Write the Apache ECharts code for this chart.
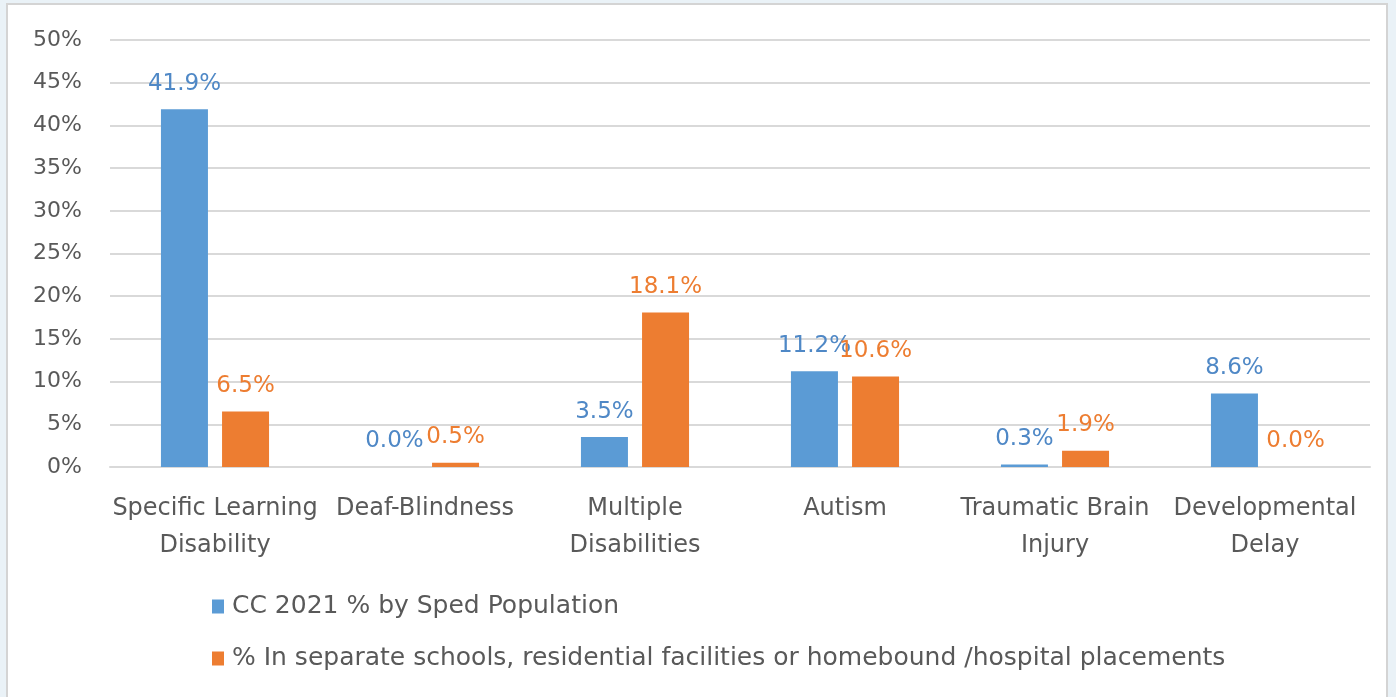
<!DOCTYPE html>
<html><head><meta charset="utf-8">
<script src="https://cdn.jsdelivr.net/npm/echarts@6/dist/echarts.min.js"></script>
<style>html,body{margin:0;padding:0;background:#eaf2f7;}#c{width:1396px;height:697px;}</style>
</head><body><div id="c"></div>
<script>
const categories = ["Specific Learning\nDisability", "Deaf-Blindness", "Multiple\nDisabilities", "Autism", "Traumatic Brain\nInjury", "Developmental\nDelay"];
const seriesNames = ["CC 2021 % by Sped Population", "% In separate schools, residential facilities or homebound /hospital placements"];
const ccValues = [41.9, 0.0, 3.5, 11.2, 0.3, 8.6];
const separateValues = [6.5, 0.5, 18.1, 10.6, 1.9, 0.0];
const yTicks = [0, 5, 10, 15, 20, 25, 30, 35, 40, 45, 50];

const chart = echarts.init(document.getElementById('c'), null, {renderer: 'canvas'});
const font = "'DejaVu Sans', 'Open Sans', sans-serif";
const lblStyle = (color) => ({show: true, position: 'top', distance: 14, fontSize: 23, fontFamily: font, color: color, formatter: p => p.value.toFixed(1) + '%'});
chart.setOption({
  backgroundColor: '#eaf2f7',
  animation: false,
  graphic: [{type: 'rect', shape: {x: 7, y: 4, width: 1380, height: 700}, style: {fill: '#ffffff', stroke: '#d4d4d4', lineWidth: 2}, z: -10}],
  grid: {left: 110, right: 26, top: 40, bottom: 230},
  legend: {
    orient: 'vertical', left: 207, top: 589, itemGap: 27, itemWidth: 12, itemHeight: 14,
    icon: 'rect',
    textStyle: {fontSize: 25, fontFamily: font, color: '#595959', padding: [0, 0, 0, 3]},
    data: seriesNames
  },
  xAxis: {
    type: 'category', data: categories,
    axisLine: {lineStyle: {color: '#d9d9d9', width: 2}},
    axisTick: {show: false},
    axisLabel: {fontSize: 24, fontFamily: font, color: '#595959', margin: 23, lineHeight: 37, interval: 0}
  },
  yAxis: {
    type: 'value', min: 0, max: 50, interval: 5,
    axisLine: {show: false}, axisTick: {show: false},
    splitLine: {lineStyle: {color: '#d9d9d9', width: 2}},
    axisLabel: {fontSize: 22, fontFamily: font, color: '#595959', margin: 28, formatter: v => yTicks.includes(v) ? v + '%' : ''}
  },
  series: [
    {name: seriesNames[0], type: 'bar', data: ccValues, barWidth: 47, barGap: '30%', itemStyle: {color: '#5b9bd5'}, label: lblStyle('#4f88c6')},
    {name: seriesNames[1], type: 'bar', data: separateValues, barWidth: 47, itemStyle: {color: '#ed7d31'}, label: lblStyle('#ed7d31')}
  ]
});
</script></body></html>
